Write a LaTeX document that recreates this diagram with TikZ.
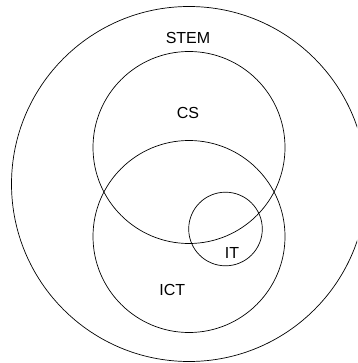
\documentclass[tikz,border=0pt]{standalone}
\usepackage{fontspec}
\setmainfont{Liberation Sans}
\begin{document}
\begin{tikzpicture}[x=1pt,y=-1pt,
  setcircle/.style={draw=black,line width=0.7pt},
  lbl/.style={font=\fontsize{16}{19}\selectfont,inner sep=0pt,anchor=center}]
\useasboundingbox (0,0) rectangle (357,363);
\begin{scope}
\clip (0,0) rectangle (357,363);
\draw[setcircle] (189,184) circle[radius=177.5];
\end{scope}
\draw[setcircle] (189,147.5) circle[radius=96];
\draw[setcircle] (189,236.5) circle[radius=96];
\draw[setcircle] (225.5,229) circle[radius=36.8];
\node[lbl] (stem) at (188,38.3) {STEM};
\node[lbl] (cs) at (188,112.7) {CS};
\node[lbl] (it) at (232,253) {IT};
\node[lbl] (ict) at (172.3,290) {ICT};
\end{tikzpicture}
\end{document}
